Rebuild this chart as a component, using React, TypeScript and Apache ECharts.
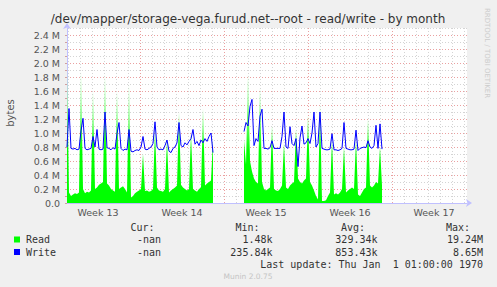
import React, { useEffect, useRef } from "react";
import * as echarts from "echarts";

// time unit: days from the start of Week 13
const xMin = 11 / 12;
const xMax = 411 / 12;
const xInterval = 1 / 12; // 2 hours; xMin is a multiple of it
const step = 1 / 6; // 4 hours per sample
const seg1Start = 11 / 12;
const seg2Start = 188 / 12;
const gapX = 14.5;

const weekLabels = ["Week 13", "Week 14", "Week 15", "Week 16", "Week 17"];
const weekCenters = [3.5, 10.5, 17.5, 24.5, 31.5];

// values in millions of bytes
const readSeg1 = [2.0,0.15,0.10,0.12,0.14,0.13,0.15,1.9,0.2,0.14, 0.16,0.15,0.18,1.6,0.2,0.22,0.26,0.28,0.3,1.85, 0.28,0.25,0.2,0.18,0.16,1.6,0.2,0.22,0.24,0.2, 0.15,1.7,0.08,0.1,0.14,0.16,0.18,0.2,0.7,0.17, 0.18,0.16,0.17,0.2,1.05,0.22,0.18,0.17,0.16,0.2, 0.9,0.15,0.18,0.2,0.22,0.25,1.3,0.26,0.22,0.2, 0.18,0.2,1.0,0.2,0.18,0.16,0.2,0.22,1.35,0.25, 0.28,0.3,0.32,0.9];
const writeSeg1 = [0.80,1.35,0.78,0.77,0.78,0.76,0.77,1.03,1.21,0.78, 0.76,0.77,0.78,0.95,0.80,1.05,0.77,0.76,0.77,1.30, 0.79,0.78,0.76,0.79,0.77,0.99,1.15,0.78,0.75,0.77, 0.76,1.05,0.74,0.73,0.75,0.76,0.75,0.80,0.95,0.77, 0.76,0.78,0.80,0.85,1.16,0.80,0.76,0.77,0.76,0.82, 0.90,0.74,0.72,0.78,0.80,0.86,1.15,0.82,0.80,0.86, 0.83,0.88,0.92,1.05,0.84,0.88,0.82,0.90,0.86,0.92, 0.88,0.95,1.00,0.72];
const readSeg2 = [0.9,0.55,1.85,0.6,0.45,0.35,0.3,0.28,1.65,0.3, 0.2,0.18,0.2,0.22,1.1,0.2,0.18,0.17,0.2,0.25, 0.85,0.22,0.2,0.25,0.28,0.3,1.05,0.35,0.3,0.28, 0.32,0.35,1.25,0.3,0.25,0.18,0.1,0.05,1.4,0.03, 0.03,0.04,0.1,0.15,0.9,0.12,0.14,0.12,0.15,0.2, 0.8,0.15,0.18,0.2,0.22,0.2,0.9,0.12,0.1,0.15, 0.2,0.22,1.2,0.25,0.22,0.25,0.3,0.28,0.8,0.25];
const writeSeg2 = [1.02,1.15,1.10,1.38,1.48,0.82,0.92,0.88,1.24,1.34, 0.78,0.78,0.77,0.79,0.89,0.78,0.78,0.78,0.78,0.95, 1.30,0.80,0.78,1.09,0.85,0.82,0.92,0.52,0.93,1.10, 0.84,0.86,0.92,0.85,1.00,1.30,0.80,0.85,1.30,0.78, 0.77,0.76,0.76,0.77,0.99,0.76,0.76,0.75,0.76,0.78, 1.15,0.78,0.77,0.76,0.76,0.77,1.04,0.75,0.78,0.79, 0.80,0.79,0.89,0.80,0.78,0.82,1.11,0.78,1.13,0.77];

const legendRows = [
  { name: "Read", color: "#00FF00", cur: "-nan", min: "1.48k", avg: "329.34k", max: "19.24M" },
  { name: "Write", color: "#0000FF", cur: "-nan", min: "235.84k", avg: "853.43k", max: "8.65M" },
];

const TITLE = "/dev/mapper/storage-vega.furud.net--root - read/write - by month";

function toPoints(seg: number[], start: number) {
  return seg.map((v, i) => [start + i * step, v * 1e6]);
}

const GRID_GRAY = "#d4d4d4";
const GRID_RED = "#eaa0a0";
// split lines every 2h starting at xMin: a day line every 12th, a week line every 84th
const xSplitColors = Array.from({ length: 84 }, (_, k) =>
  k === 73 ? GRID_RED : k % 12 === 1 ? GRID_GRAY : "rgba(0,0,0,0)"
);

export default function App() {
  const ref = useRef<HTMLDivElement>(null);
  useEffect(() => {
    if (!ref.current) return;
    const chart = echarts.init(ref.current, null, { renderer: "svg" });
    const readData = [...toPoints(readSeg1, seg1Start), [gapX, null], ...toPoints(readSeg2, seg2Start)];
    const writeData = [...toPoints(writeSeg1, seg1Start), [gapX, null], ...toPoints(writeSeg2, seg2Start)];
    const mono = "DejaVu Sans Mono";
    const sans = "DejaVu Sans";
    const txt = (x: number, y: number, text: string, align: string, opts: any = {}) => ({
      type: "text",
      x,
      y,
      style: {
        text,
        fontFamily: opts.font || mono,
        fontSize: opts.size || 10,
        fill: opts.color || "#333",
        textAlign: align,
        textVerticalAlign: "middle",
      },
      rotation: opts.rotation || 0,
    });
    const graphics: any[] = [
      txt(248, 19, TITLE, "center", { font: sans, size: 12, color: "#333" }),
      txt(10, 113, "bytes", "center", { font: sans, size: 10, color: "#555", rotation: Math.PI / 2 }),
      txt(487, 53, "RRDTOOL / TOBI OETIKER", "center", { font: sans, size: 7, color: "#cccccc", rotation: -Math.PI / 2 }),
      txt(154.5, 227.5, "Cur:", "right"),
      txt(259.5, 227.5, "Min:", "right"),
      txt(365, 227.5, "Avg:", "right"),
      txt(470, 227.5, "Max:", "right"),
      txt(483, 264, "Last update: Thu Jan  1 01:00:00 1970", "right"),
      txt(248, 276, "Munin 2.0.75", "center", { font: sans, size: 7.5, color: "#c4c4c4" }),
    ];
    legendRows.forEach((r, i) => {
      const y = 239.5 + i * 12.5;
      graphics.push({ type: "rect", shape: { x: 14, y: y - 3, width: 6, height: 6 }, style: { fill: r.color } });
      graphics.push(txt(26, y, r.name, "left"));
      graphics.push(txt(161, y, r.cur, "right"));
      graphics.push(txt(272.5, y, r.min, "right"));
      graphics.push(txt(377.5, y, r.avg, "right"));
      graphics.push(txt(483, y, r.max, "right"));
    });

    // solid green near the base, fading on tall narrow spikes (plot spans y 28..203)
    const readFill = new echarts.graphic.LinearGradient(0, 28, 0, 203, [
      { offset: 0, color: "#f0fff0" },
      { offset: 0.25, color: "#c8ffc8" },
      { offset: 0.55, color: "#60ff60" },
      { offset: 0.7, color: "#00ff00" },
      { offset: 1, color: "#00ff00" },
    ], true);

    chart.setOption({
      animation: false,
      backgroundColor: "#F0F0F0",
      grid: { left: 67, top: 28, width: 400, height: 175, show: true, backgroundColor: "#ffffff", borderWidth: 0 },
      xAxis: {
        type: "value",
        min: xMin,
        max: xMax,
        interval: xInterval,
        axisLine: { show: true, lineStyle: { color: "#c0c0ff", width: 1 }, symbol: ["none", "arrow"], symbolSize: [6, 6], symbolOffset: [0, 5] },
        axisTick: { show: false },
        splitLine: { show: true, lineStyle: { color: xSplitColors, type: [1, 2], width: 1 } },
        axisLabel: {
          customValues: weekCenters,
          margin: 4,
          fontFamily: sans,
          fontSize: 9.5,
          color: "#555",
          formatter: (v: number) => {
            const idx = weekCenters.findIndex((c) => Math.abs(c - v) < 0.01);
            return idx >= 0 ? weekLabels[idx] : "";
          },
        },
      },
      yAxis: {
        type: "value",
        min: 0,
        max: 2500000,
        interval: 100000,
        axisLine: { show: true, lineStyle: { color: "#c0c0ff", width: 1 }, symbol: ["none", "arrow"], symbolSize: [6, 6], symbolOffset: [0, 5] },
        axisTick: { show: true, length: 2, lineStyle: { color: "#d0a0a0" } },
        splitLine: { show: true, lineStyle: { color: [GRID_RED, GRID_GRAY], type: [1, 2], width: 1 } },
        axisLabel: {
          margin: 7,
          fontFamily: sans,
          fontSize: 9.5,
          color: "#555",
          showMaxLabel: false,
          formatter: (v: number) => {
            const k = Math.round(v / 100000);
            if (k % 2 !== 0 || k > 24) return "";
            if (k === 0) return "0.0";
            return (k / 10).toFixed(1) + " M";
          },
        },
      },
      series: [
        {
          type: "line",
          name: "Read",
          data: readData,
          z: 2,
          symbol: "none",
          connectNulls: false,
          lineStyle: { width: 0 },
          areaStyle: { color: readFill, opacity: 1 },
        },
        {
          type: "line",
          name: "Write",
          data: writeData,
          z: 3,
          symbol: "none",
          connectNulls: false,
          lineStyle: { width: 1, color: "#0000FF" },
        },
      ],
      graphic: graphics,
    });
    return () => chart.dispose();
  }, []);
  return <div ref={ref} style={{ position: "fixed", left: 0, top: 0, width: 497, height: 287 }} />;
}
